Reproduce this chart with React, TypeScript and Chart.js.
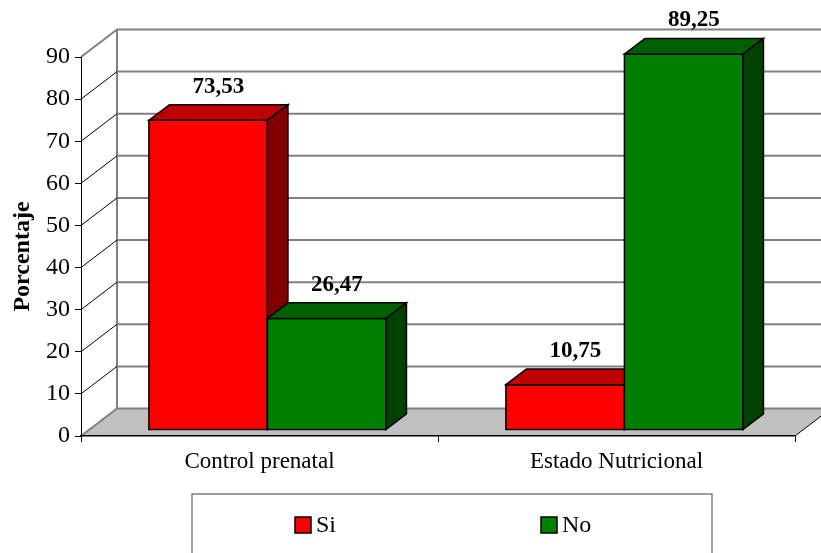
import { useEffect, useRef } from 'react';
import { Chart, registerables } from 'chart.js';

Chart.register(...registerables);

// Chart data
const categories = ['Control prenatal', 'Estado Nutricional'];
const seriesNames = ['Si', 'No'];
const siValues = [73.53, 10.75];
const noValues = [26.47, 89.25];
const yMin = 0;
const yMax = 90;
const yStep = 10;
const axisTitle = 'Porcentaje';

const SERIF = '"Liberation Serif", "Times New Roman", serif';

// Face shading for each series: front, top and right side of the 3-D bar
const faceColors = [
  { front: '#ff0000', top: '#bf0000', side: '#800000' },
  { front: '#008000', top: '#006000', side: '#004000' },
];

// Projection of the chart depth (front plane -> back wall)
const DEPTH = { x: 36, y: -27.5 };
const BAR_FRONT = 0.22; // where the bar's front face sits inside the depth
const BAR_DEPTH = 0.57; // how deep the bar is

const fmt = (v: number) => v.toFixed(2).replace('.', ',');

function line(ctx: CanvasRenderingContext2D, x1: number, y1: number, x2: number, y2: number) {
  ctx.beginPath();
  ctx.moveTo(x1, y1);
  ctx.lineTo(x2, y2);
  ctx.stroke();
}

function poly(ctx: CanvasRenderingContext2D, pts: number[][], fill: string) {
  ctx.beginPath();
  ctx.moveTo(pts[0][0], pts[0][1]);
  for (let i = 1; i < pts.length; i++) ctx.lineTo(pts[i][0], pts[i][1]);
  ctx.closePath();
  ctx.fillStyle = fill;
  ctx.fill();
  ctx.stroke();
}

// Walls, floor, 3-D bars, value labels, axis title and legend box
const boxPlugin = {
  id: 'box3d',
  beforeDraw(chart: any) {
    const { ctx, chartArea: a } = chart;
    const y = chart.scales.y;
    const dx = DEPTH.x;
    const dy = DEPTH.y;
    const y0 = y.getPixelForValue(yMin);
    const yTop = y.getPixelForValue(yMax);
    ctx.save();
    // floor
    ctx.beginPath();
    ctx.moveTo(a.left, y0);
    ctx.lineTo(a.right, y0);
    ctx.lineTo(a.right + dx, y0 + dy);
    ctx.lineTo(a.left + dx, y0 + dy);
    ctx.closePath();
    ctx.fillStyle = '#c0c0c0';
    ctx.fill();
    ctx.strokeStyle = '#000000';
    ctx.lineWidth = 1;
    line(ctx, a.right, y0, a.right + dx, y0 + dy);
    // back wall gridlines
    ctx.strokeStyle = '#808080';
    ctx.lineWidth = 2;
    y.ticks.forEach((t: any) => {
      const py = y.getPixelForValue(t.value) + dy;
      line(ctx, a.left + dx, py, a.right + dx, py);
    });
    line(ctx, a.left + dx, y0 + dy, a.left + dx, yTop + dy);
    // side wall
    y.ticks.forEach((t: any) => {
      const py = y.getPixelForValue(t.value);
      const edge = t.value === yMin || t.value === yMax;
      ctx.strokeStyle = edge ? '#808080' : '#000000';
      ctx.lineWidth = edge ? 2 : 1;
      line(ctx, a.left, py, a.left + dx, py + dy);
    });
    // axis title
    ctx.translate(23, (y0 + yTop) / 2 + 10);
    ctx.rotate(-Math.PI / 2);
    ctx.fillStyle = '#000000';
    ctx.font = `bold 24px ${SERIF}`;
    ctx.textAlign = 'center';
    ctx.textBaseline = 'middle';
    ctx.fillText(axisTitle, 0, 0);
    ctx.restore();
  },
  beforeDatasetDraw() {
    return false;
  },
  afterDatasetsDraw(chart: any) {
    const { ctx } = chart;
    const fx = DEPTH.x * BAR_FRONT;
    const fy = DEPTH.y * BAR_FRONT;
    const bx = DEPTH.x * BAR_DEPTH;
    const by = DEPTH.y * BAR_DEPTH;
    const n = chart.data.labels.length;
    const labels: { x: number; y: number; text: string }[] = [];
    ctx.save();
    ctx.strokeStyle = '#000000';
    ctx.lineWidth = 1.5;
    ctx.lineJoin = 'miter';
    for (let i = 0; i < n; i++) {
      chart.data.datasets.forEach((ds: any, d: number) => {
        const el = chart.getDatasetMeta(d).data[i];
        const { x, y, base, width } = el.getProps(['x', 'y', 'base', 'width'], true);
        const l = x - width / 2 + fx;
        const r = x + width / 2 + fx;
        const t = y + fy;
        const b = base + fy;
        const c = faceColors[d];
        poly(ctx, [[l, t], [r, t], [r, b], [l, b]], c.front);
        poly(ctx, [[l, t], [l + bx, t + by], [r + bx, t + by], [r, t]], c.top);
        poly(ctx, [[r, t], [r + bx, t + by], [r + bx, b + by], [r, b]], c.side);
        labels.push({ x: (l + r) / 2 + bx / 2, y: t + by - 12, text: fmt(ds.data[i]) });
      });
    }
    ctx.fillStyle = '#000000';
    ctx.font = `bold 23px ${SERIF}`;
    ctx.textAlign = 'center';
    ctx.textBaseline = 'alphabetic';
    labels.forEach((lb) => ctx.fillText(lb.text, lb.x, lb.y));
    ctx.restore();
  },
  afterDraw(chart: any) {
    const { ctx } = chart;
    const boxLeft = 192;
    const boxTop = 494;
    const boxWidth = 520;
    ctx.save();
    ctx.fillStyle = '#ffffff';
    ctx.strokeStyle = '#808080';
    ctx.lineWidth = 1.5;
    ctx.fillRect(boxLeft, boxTop, boxWidth, 80);
    ctx.strokeRect(boxLeft, boxTop, boxWidth, 80);
    const midY = boxTop + 31;
    chart.data.datasets.forEach((ds: any, d: number) => {
      const sx = boxLeft + 103 + d * 246;
      ctx.fillStyle = faceColors[d].front;
      ctx.strokeStyle = '#000000';
      ctx.lineWidth = 1.5;
      ctx.fillRect(sx, midY - 8, 16, 16);
      ctx.strokeRect(sx, midY - 8, 16, 16);
      ctx.fillStyle = '#000000';
      ctx.font = `24px ${SERIF}`;
      ctx.textAlign = 'left';
      ctx.textBaseline = 'middle';
      ctx.fillText(ds.label, sx + 21, midY + 1);
    });
    ctx.restore();
  },
};

export default function App() {
  const canvasRef = useRef<HTMLCanvasElement | null>(null);

  useEffect(() => {
    const canvas = canvasRef.current;
    if (!canvas) return;
    const chart = new Chart(canvas, {
      type: 'bar',
      data: {
        labels: categories,
        datasets: [
          { label: seriesNames[0], data: siValues, backgroundColor: faceColors[0].front, barPercentage: 1, categoryPercentage: 0.664 },
          { label: seriesNames[1], data: noValues, backgroundColor: faceColors[1].front, barPercentage: 1, categoryPercentage: 0.664 },
        ],
      },
      options: {
        responsive: false,
        animation: false,
        devicePixelRatio: 1,
        layout: { padding: { left: 0, right: 26, top: 57, bottom: 0 } },
        plugins: { legend: { display: false }, tooltip: { enabled: false } },
        scales: {
          x: {
            offset: true,
            grid: { display: true, drawOnChartArea: false, offset: true, tickLength: 6, color: '#000000' },
            border: { display: true, color: '#000000', width: 1.5 },
            ticks: { font: { family: SERIF, size: 23 }, color: '#000000', padding: 6, maxRotation: 0, autoSkip: false },
            afterFit: (s: any) => {
              s.height = 117;
            },
          },
          y: {
            min: yMin,
            max: yMax,
            grid: { display: true, drawOnChartArea: false, tickLength: 6, color: '#000000' },
            border: { display: true, color: '#000000', width: 1 },
            ticks: { stepSize: yStep, font: { family: SERIF, size: 24 }, color: '#000000', padding: 5 },
            title: { display: false },
            afterFit: (s: any) => {
              s.width = 81;
            },
          },
        },
      },
      plugins: [boxPlugin],
    } as any);
    return () => chart.destroy();
  }, []);

  return (
    <div style={{ position: 'absolute', left: 0, top: 0, width: 821, height: 553, background: '#ffffff' }}>
      <canvas ref={canvasRef} width={821} height={553} style={{ display: 'block' }} />
    </div>
  );
}
